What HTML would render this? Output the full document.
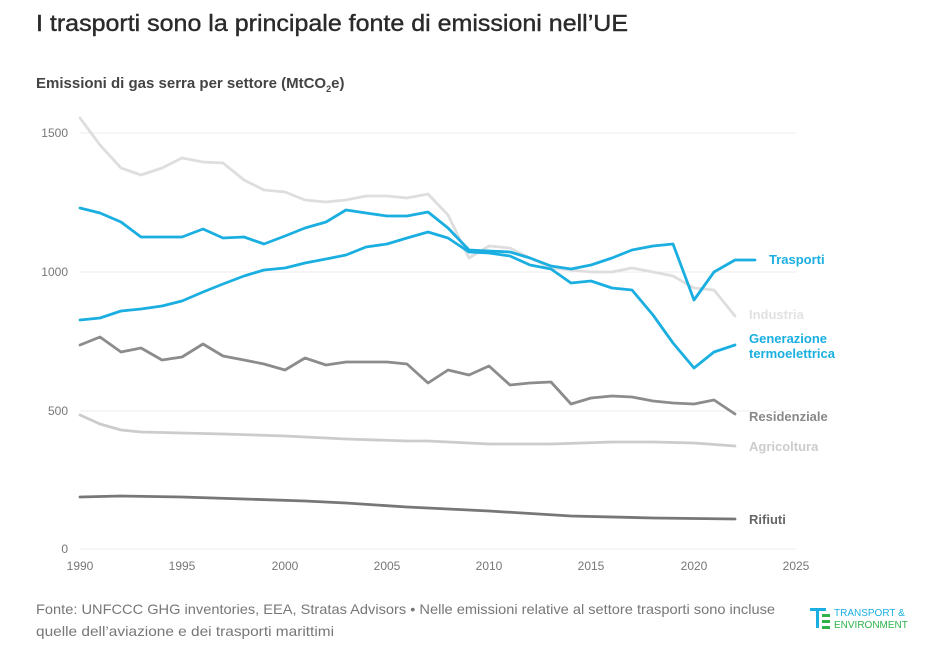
<!DOCTYPE html>
<html><head><meta charset="utf-8"><style>
body{margin:0;background:#fff;width:941px;height:660px;overflow:hidden;font-family:"Liberation Sans",sans-serif}
</style></head><body>
<svg width="941" height="660" viewBox="0 0 941 660" xmlns="http://www.w3.org/2000/svg" font-family="Liberation Sans, sans-serif">
<text x="36" y="31" font-size="23" fill="#2a2a2a" stroke="#2a2a2a" stroke-width="0.4" textLength="592" lengthAdjust="spacingAndGlyphs">I trasporti sono la principale fonte di emissioni nell’UE</text>
<text x="36" y="88" font-size="15" font-weight="bold" fill="#444">Emissioni di gas serra per settore (MtCO<tspan font-size="9" dy="4">2</tspan><tspan dy="-4">e)</tspan></text>
<g stroke="#ececec" stroke-width="1">
<line x1="80" y1="133" x2="796" y2="133"/><line x1="80" y1="272" x2="796" y2="272"/><line x1="80" y1="411" x2="796" y2="411"/><line x1="80" y1="549" x2="796" y2="549"/>
</g>
<g font-size="12" fill="#777">
<text x="68" y="137" text-anchor="end">1500</text><text x="68" y="276" text-anchor="end">1000</text><text x="68" y="415" text-anchor="end">500</text><text x="68" y="553" text-anchor="end">0</text>
</g>
<g font-size="12" fill="#777" text-anchor="middle">
<text x="80" y="570">1990</text><text x="182" y="570">1995</text><text x="285" y="570">2000</text><text x="387" y="570">2005</text><text x="489" y="570">2010</text><text x="591" y="570">2015</text><text x="694" y="570">2020</text><text x="796" y="570">2025</text>
</g>
<g fill="none" stroke-width="2.8" stroke-linejoin="round" stroke-linecap="round">
<polyline stroke="#dedede" points="80,118 100,145 121,168 141,175 162,168 182,158 203,162 223,163 244,180 264,190 285,192 305,200 326,202 346,200 366,196 387,196 407,198 428,194 448,215 469,258 489,246 510,248 530,258 551,268 571,270 591,272 612,272 632,268 653,272 673,276 694,288 714,290 735,316"/>
<polyline stroke="#ccc" points="80,415 100,424 121,430 141,432 182,433 223,434 285,436 346,439 407,441 428,441 489,444 551,444 612,442 653,442 694,443 735,446"/>
<polyline stroke="#777" points="80,497 121,496 182,497 244,499 305,501 346,503 407,507 489,511 571,516 653,518 735,519"/>
<polyline stroke="#8c8c8c" points="80,345 100,337 121,352 141,348 162,360 182,357 203,344 223,356 244,360 264,364 285,370 305,358 326,365 346,362 366,362 387,362 407,364 428,383 448,370 469,375 489,366 510,385 530,383 551,382 571,404 591,398 612,396 632,397 653,401 673,403 694,404 714,400 735,414"/>
<polyline stroke="#1aafe0" points="80,320 100,318 121,311 141,309 162,306 182,301 203,292 223,284 244,276 264,270 285,268 305,263 326,259 346,255 366,247 387,244 407,238 428,232 448,238 469,252 489,253 510,256 530,265 551,269 571,283 591,281 612,288 632,290 653,315 673,343 694,368 714,352 735,345"/>
<polyline stroke="#1aafe0" points="80,208 100,213 121,222 141,237 162,237 182,237 203,229 223,238 244,237 264,244 285,236 305,228 326,222 346,210 366,213 387,216 407,216 428,212 448,228 469,250 489,251 510,252 530,258 551,266 571,269 591,265 612,258 632,250 653,246 673,244 694,300 714,272 735,260 755,260"/>
</g>
<g font-size="13" font-weight="bold">
<text x="769" y="264" fill="#1aafe0">Trasporti</text>
<text x="749" y="319" fill="#e2e2e2">Industria</text>
<text x="749" y="343" fill="#1aafe0">Generazione</text>
<text x="749" y="358" fill="#1aafe0">termoelettrica</text>
<text x="749" y="421" fill="#888">Residenziale</text>
<text x="749" y="451" fill="#ccc">Agricoltura</text>
<text x="749" y="524" fill="#666">Rifiuti</text>
</g>
<g font-size="14" fill="#777">
<text x="36" y="614" textLength="739" lengthAdjust="spacingAndGlyphs">Fonte: UNFCCC GHG inventories, EEA, Stratas Advisors • Nelle emissioni relative al settore trasporti sono incluse</text>
<text x="36" y="636" textLength="298" lengthAdjust="spacingAndGlyphs">quelle dell’aviazione e dei trasporti marittimi</text>
</g>
<g>
<rect x="810" y="608" width="16" height="3" fill="#1aafe0"/>
<rect x="816" y="608" width="3" height="20" fill="#1aafe0"/>
<rect x="822" y="614" width="8" height="3" fill="#2db34a"/>
<rect x="822" y="620" width="8" height="3" fill="#2db34a"/>
<rect x="822" y="626" width="8" height="3" fill="#2db34a"/>
<text x="834" y="616" font-size="10" fill="#1aafe0">TRANSPORT &amp;</text>
<text x="834" y="628" font-size="10" fill="#2db34a">ENVIRONMENT</text>
</g>
</svg>
</body></html>
